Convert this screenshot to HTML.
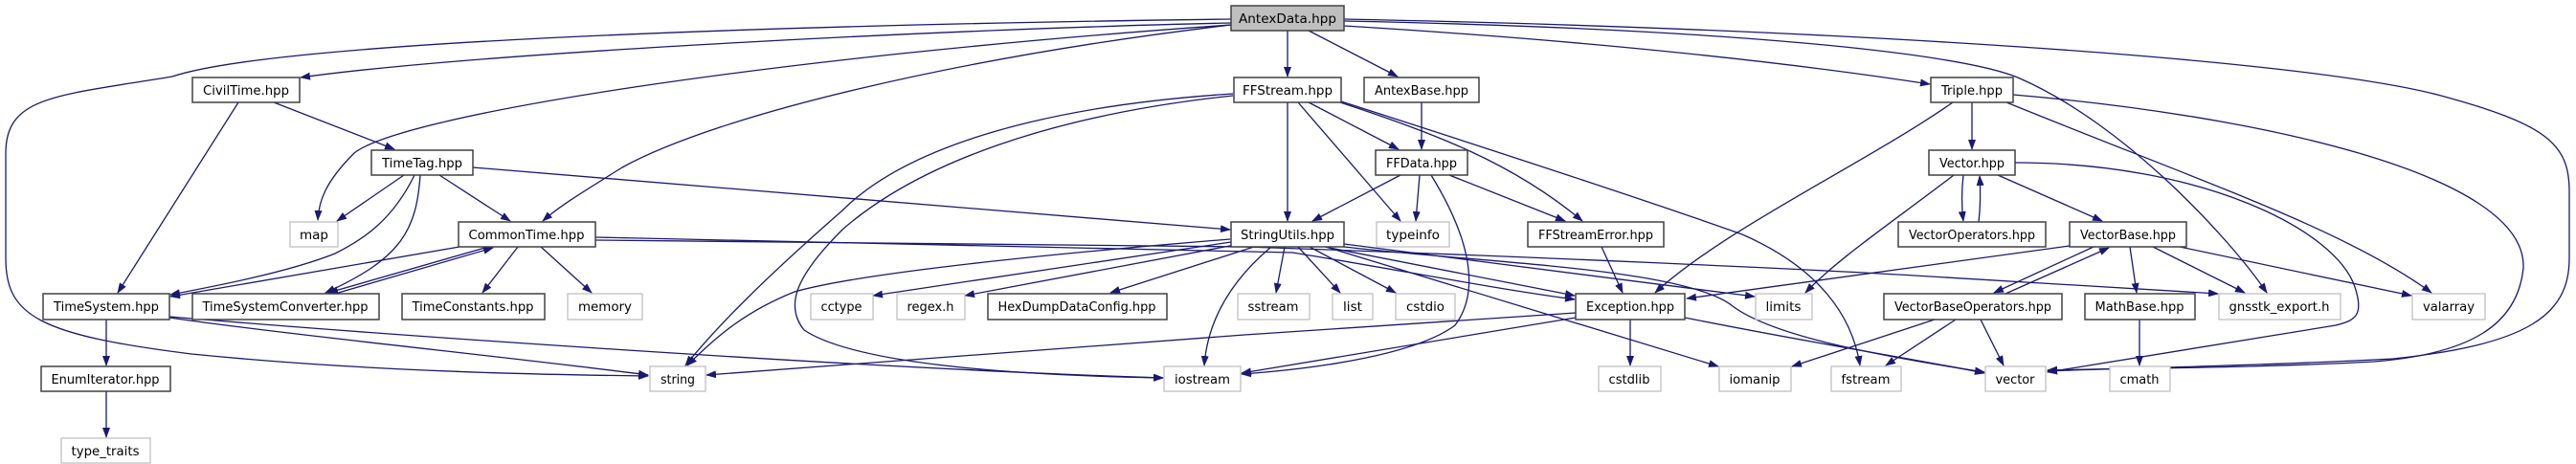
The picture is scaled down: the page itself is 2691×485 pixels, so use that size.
<!DOCTYPE html>
<html><head><meta charset="utf-8"><style>
html,body{margin:0;padding:0;background:#fff;}
svg{display:block;}
text{font-family:"DejaVu Sans","Liberation Sans",sans-serif;font-size:13px;fill:#000;}
.e{fill:none;stroke:#191970;stroke-width:1.3;marker-end:url(#a);}
.n rect{fill:#fff;stroke:#404040;stroke-width:1.5;}
.g rect{fill:#fff;stroke:#bfbfbf;stroke-width:1.3;}
</style></head><body>
<svg width="2691" height="485" viewBox="0 0 2691 485" xmlns="http://www.w3.org/2000/svg">
<defs><marker id="a" markerWidth="11" markerHeight="8" refX="10" refY="4" orient="auto" markerUnits="userSpaceOnUse"><path d="M0,0 L11,4 L0,8 z" fill="#191970"/></marker></defs>
<g>
<path class="e" d="M1286,24 C1000,30 500,55 314,81"/>
<path class="e" d="M1286,20 C900,25 300,40 180,80 C60,100 6,100 6,160 L6,270 C6,330 40,350 200,370 C400,390 600,392 677,393"/>
<path class="e" d="M1286,26 C800,60 420,120 370,160 C340,190 333,210 332,230"/>
<path class="e" d="M1286,26 C1000,60 750,120 650,175 C610,200 585,215 567,231"/>
<path class="e" d="M1345,32 L1345,80"/>
<path class="e" d="M1367,32 L1460,80"/>
<path class="e" d="M1404,27 C1700,45 1900,70 2016,88"/>
<path class="e" d="M1404,22 C1800,30 2050,55 2110,82 C2220,130 2330,250 2368,306"/>
<path class="e" d="M1404,20 C1900,30 2400,60 2550,100 C2660,130 2684,150 2684,200 L2684,270 C2684,330 2640,360 2500,375 C2350,383 2200,385 2139,388"/>
<path class="e" d="M286,107 L412,156"/>
<path class="e" d="M249,107 L123,306"/>
<path class="e" d="M422,183 L352,231"/>
<path class="e" d="M459,183 L533,231"/>
<path class="e" d="M433,183 C410,230 380,250 350,265 C300,285 220,300 178,308"/>
<path class="e" d="M439,183 C435,240 420,270 340,306"/>
<path class="e" d="M494,175 L1285,240"/>
<path class="e" d="M480,258 L178,310"/>
<path class="e" d="M510,258 L343,306"/>
<path class="e" d="M350,307 L515,259"/>
<path class="e" d="M541,258 L504,306"/>
<path class="e" d="M565,258 L618,306"/>
<path class="e" d="M622,248 L1350,264 C1450,280 1550,300 1645,313"/>
<path class="e" d="M622,251 L1300,258 C1600,268 1900,282 2000,288 C2150,296 2250,302 2317,307"/>
<path class="e" d="M111,334 L111,382"/>
<path class="e" d="M111,409 L111,457"/>
<path class="e" d="M177,332 C300,350 550,375 677,392"/>
<path class="e" d="M177,331 C400,350 900,385 1215,395"/>
<path class="e" d="M1288,98 C1100,110 950,150 880,220 C800,290 750,340 716,382"/>
<path class="e" d="M1288,100 C1100,120 960,170 880,240 C830,290 820,320 840,345 C900,385 1100,393 1215,395"/>
<path class="e" d="M1345,107 L1345,231"/>
<path class="e" d="M1367,107 L1461,156"/>
<path class="e" d="M1356,107 L1463,231"/>
<path class="e" d="M1400,107 C1500,140 1580,170 1653,231"/>
<path class="e" d="M1401,106 C1600,170 1750,220 1820,245 C1900,280 1935,330 1943,382"/>
<path class="e" d="M1485,107 L1485,156"/>
<path class="e" d="M1463,183 L1371,231"/>
<path class="e" d="M1483,183 L1479,231"/>
<path class="e" d="M1514,183 L1635,231"/>
<path class="e" d="M1495,183 C1530,240 1550,300 1520,340 C1480,370 1380,385 1297,391"/>
<path class="e" d="M1673,258 L1695,306"/>
<path class="e" d="M1285,250 C1100,265 900,285 830,305 C780,325 750,350 718,382"/>
<path class="e" d="M1286,253 L912,309"/>
<path class="e" d="M1290,256 L1008,309"/>
<path class="e" d="M1310,258 L1160,306"/>
<path class="e" d="M1328,258 C1290,290 1262,330 1258,382"/>
<path class="e" d="M1342,258 L1333,306"/>
<path class="e" d="M1356,258 L1400,306"/>
<path class="e" d="M1368,258 L1458,306"/>
<path class="e" d="M1384,258 L1645,309"/>
<path class="e" d="M1385,258 L1795,383"/>
<path class="e" d="M1404,255 L1833,310"/>
<path class="e" d="M1404,258 C1550,275 1760,280 1810,320 C1850,350 1950,370 2073,389"/>
<path class="e" d="M1646,327 L1300,350 L738,392"/>
<path class="e" d="M1646,332 L1297,390"/>
<path class="e" d="M1703,334 L1703,382"/>
<path class="e" d="M1760,332 C1900,360 2000,375 2073,390"/>
<path class="e" d="M2060,107 L2060,156"/>
<path class="e" d="M2040,107 C1950,170 1800,240 1729,306"/>
<path class="e" d="M2096,107 C2300,190 2450,240 2540,306"/>
<path class="e" d="M2103,99 C2350,120 2640,180 2636,280 C2630,340 2580,370 2480,378 C2350,385 2200,385 2139,387"/>
<path class="e" d="M2051,183 C2049,200 2049,215 2051,231"/>
<path class="e" d="M2067,232 C2069,215 2069,200 2068,184"/>
<path class="e" d="M2087,183 L2196,231"/>
<path class="e" d="M2041,183 C1980,230 1920,270 1886,306"/>
<path class="e" d="M2105,170 C2300,170 2440,240 2460,300 C2470,330 2460,335 2440,340 L2139,389"/>
<path class="e" d="M2187,258 L2083,306"/>
<path class="e" d="M2095,307 L2203,259"/>
<path class="e" d="M2225,258 L2232,306"/>
<path class="e" d="M2249,258 L2345,306"/>
<path class="e" d="M2277,258 L2519,309"/>
<path class="e" d="M2162,257 L1762,312"/>
<path class="e" d="M2069,334 L2093,382"/>
<path class="e" d="M2024,333 L1872,383"/>
<path class="e" d="M2043,334 L1970,382"/>
<path class="e" d="M2235,334 L2235,382"/>
</g>
<!-- nodes -->
<g class="n"><rect x="1286" y="6" width="118" height="26" style="fill:#bfbfbf"/><text x="1345" y="24" text-anchor="middle" textLength="102" lengthAdjust="spacingAndGlyphs">AntexData.hpp</text></g>
<g class="n"><rect x="201" y="81" width="112" height="26"/><text x="257" y="99" text-anchor="middle" textLength="90" lengthAdjust="spacingAndGlyphs">CivilTime.hpp</text></g>
<g class="n"><rect x="1289" y="81" width="112" height="26"/><text x="1345" y="99" text-anchor="middle" textLength="94" lengthAdjust="spacingAndGlyphs">FFStream.hpp</text></g>
<g class="n"><rect x="1425" y="81" width="120" height="26"/><text x="1485" y="99" text-anchor="middle" textLength="98" lengthAdjust="spacingAndGlyphs">AntexBase.hpp</text></g>
<g class="n"><rect x="2017" y="81" width="86" height="26"/><text x="2060" y="99" text-anchor="middle" textLength="64" lengthAdjust="spacingAndGlyphs">Triple.hpp</text></g>
<g class="n"><rect x="388" y="157" width="106" height="26"/><text x="441" y="175" text-anchor="middle" textLength="84" lengthAdjust="spacingAndGlyphs">TimeTag.hpp</text></g>
<g class="n"><rect x="1437" y="157" width="96" height="26"/><text x="1485" y="175" text-anchor="middle" textLength="74" lengthAdjust="spacingAndGlyphs">FFData.hpp</text></g>
<g class="n"><rect x="2015" y="157" width="90" height="26"/><text x="2060" y="175" text-anchor="middle" textLength="68" lengthAdjust="spacingAndGlyphs">Vector.hpp</text></g>
<g class="g"><rect x="303" y="232" width="50" height="26"/><text x="328" y="250" text-anchor="middle" textLength="30" lengthAdjust="spacingAndGlyphs">map</text></g>
<g class="n"><rect x="479" y="232" width="143" height="26"/><text x="550" y="250" text-anchor="middle" textLength="121" lengthAdjust="spacingAndGlyphs">CommonTime.hpp</text></g>
<g class="n"><rect x="1286" y="232" width="118" height="26"/><text x="1345" y="250" text-anchor="middle" textLength="98" lengthAdjust="spacingAndGlyphs">StringUtils.hpp</text></g>
<g class="g"><rect x="1438" y="232" width="76" height="26"/><text x="1476" y="250" text-anchor="middle" textLength="56" lengthAdjust="spacingAndGlyphs">typeinfo</text></g>
<g class="n"><rect x="1596" y="232" width="142" height="26"/><text x="1667" y="250" text-anchor="middle" textLength="120" lengthAdjust="spacingAndGlyphs">FFStreamError.hpp</text></g>
<g class="n"><rect x="1983" y="232" width="154" height="26"/><text x="2060" y="250" text-anchor="middle" textLength="132" lengthAdjust="spacingAndGlyphs">VectorOperators.hpp</text></g>
<g class="n"><rect x="2162" y="232" width="122" height="26"/><text x="2223" y="250" text-anchor="middle" textLength="100" lengthAdjust="spacingAndGlyphs">VectorBase.hpp</text></g>
<g class="n"><rect x="45" y="307" width="132" height="27"/><text x="111" y="325" text-anchor="middle" textLength="110" lengthAdjust="spacingAndGlyphs">TimeSystem.hpp</text></g>
<g class="n"><rect x="201" y="307" width="195" height="27"/><text x="298" y="325" text-anchor="middle" textLength="173" lengthAdjust="spacingAndGlyphs">TimeSystemConverter.hpp</text></g>
<g class="n"><rect x="420" y="307" width="149" height="27"/><text x="494" y="325" text-anchor="middle" textLength="127" lengthAdjust="spacingAndGlyphs">TimeConstants.hpp</text></g>
<g class="g"><rect x="593" y="307" width="78" height="27"/><text x="632" y="325" text-anchor="middle" textLength="56" lengthAdjust="spacingAndGlyphs">memory</text></g>
<g class="g"><rect x="847" y="307" width="65" height="27"/><text x="879" y="325" text-anchor="middle" textLength="43" lengthAdjust="spacingAndGlyphs">cctype</text></g>
<g class="g"><rect x="937" y="307" width="71" height="27"/><text x="972" y="325" text-anchor="middle" textLength="49" lengthAdjust="spacingAndGlyphs">regex.h</text></g>
<g class="n"><rect x="1032" y="307" width="187" height="27"/><text x="1125" y="325" text-anchor="middle" textLength="165" lengthAdjust="spacingAndGlyphs">HexDumpDataConfig.hpp</text></g>
<g class="g"><rect x="1293" y="307" width="75" height="27"/><text x="1330" y="325" text-anchor="middle" textLength="53" lengthAdjust="spacingAndGlyphs">sstream</text></g>
<g class="g"><rect x="1392" y="307" width="42" height="27"/><text x="1413" y="325" text-anchor="middle" textLength="20" lengthAdjust="spacingAndGlyphs">list</text></g>
<g class="g"><rect x="1458" y="307" width="62" height="27"/><text x="1489" y="325" text-anchor="middle" textLength="40" lengthAdjust="spacingAndGlyphs">cstdio</text></g>
<g class="n"><rect x="1646" y="307" width="114" height="27"/><text x="1703" y="325" text-anchor="middle" textLength="92" lengthAdjust="spacingAndGlyphs">Exception.hpp</text></g>
<g class="g"><rect x="1834" y="307" width="59" height="27"/><text x="1863" y="325" text-anchor="middle" textLength="37" lengthAdjust="spacingAndGlyphs">limits</text></g>
<g class="n"><rect x="1968" y="307" width="186" height="27"/><text x="2061" y="325" text-anchor="middle" textLength="164" lengthAdjust="spacingAndGlyphs">VectorBaseOperators.hpp</text></g>
<g class="n"><rect x="2178" y="307" width="115" height="27"/><text x="2235" y="325" text-anchor="middle" textLength="93" lengthAdjust="spacingAndGlyphs">MathBase.hpp</text></g>
<g class="g"><rect x="2318" y="307" width="127" height="27"/><text x="2381" y="325" text-anchor="middle" textLength="105" lengthAdjust="spacingAndGlyphs">gnsstk_export.h</text></g>
<g class="g"><rect x="2520" y="307" width="76" height="27"/><text x="2558" y="325" text-anchor="middle" textLength="54" lengthAdjust="spacingAndGlyphs">valarray</text></g>
<g class="n"><rect x="43" y="383" width="135" height="26"/><text x="110" y="401" text-anchor="middle" textLength="113" lengthAdjust="spacingAndGlyphs">EnumIterator.hpp</text></g>
<g class="g"><rect x="679" y="383" width="58" height="26"/><text x="708" y="401" text-anchor="middle" textLength="36" lengthAdjust="spacingAndGlyphs">string</text></g>
<g class="g"><rect x="1216" y="383" width="80" height="26"/><text x="1256" y="401" text-anchor="middle" textLength="58" lengthAdjust="spacingAndGlyphs">iostream</text></g>
<g class="g"><rect x="1670" y="383" width="65" height="26"/><text x="1702" y="401" text-anchor="middle" textLength="43" lengthAdjust="spacingAndGlyphs">cstdlib</text></g>
<g class="g"><rect x="1796" y="383" width="75" height="26"/><text x="1833" y="401" text-anchor="middle" textLength="53" lengthAdjust="spacingAndGlyphs">iomanip</text></g>
<g class="g"><rect x="1913" y="383" width="73" height="26"/><text x="1949" y="401" text-anchor="middle" textLength="51" lengthAdjust="spacingAndGlyphs">fstream</text></g>
<g class="g"><rect x="2074" y="383" width="63" height="26"/><text x="2105" y="401" text-anchor="middle" textLength="41" lengthAdjust="spacingAndGlyphs">vector</text></g>
<g class="g"><rect x="2204" y="383" width="63" height="26"/><text x="2235" y="401" text-anchor="middle" textLength="41" lengthAdjust="spacingAndGlyphs">cmath</text></g>
<g class="g"><rect x="64" y="458" width="93" height="26"/><text x="110" y="476" text-anchor="middle" textLength="71" lengthAdjust="spacingAndGlyphs">type_traits</text></g>
</svg>
</body></html>
